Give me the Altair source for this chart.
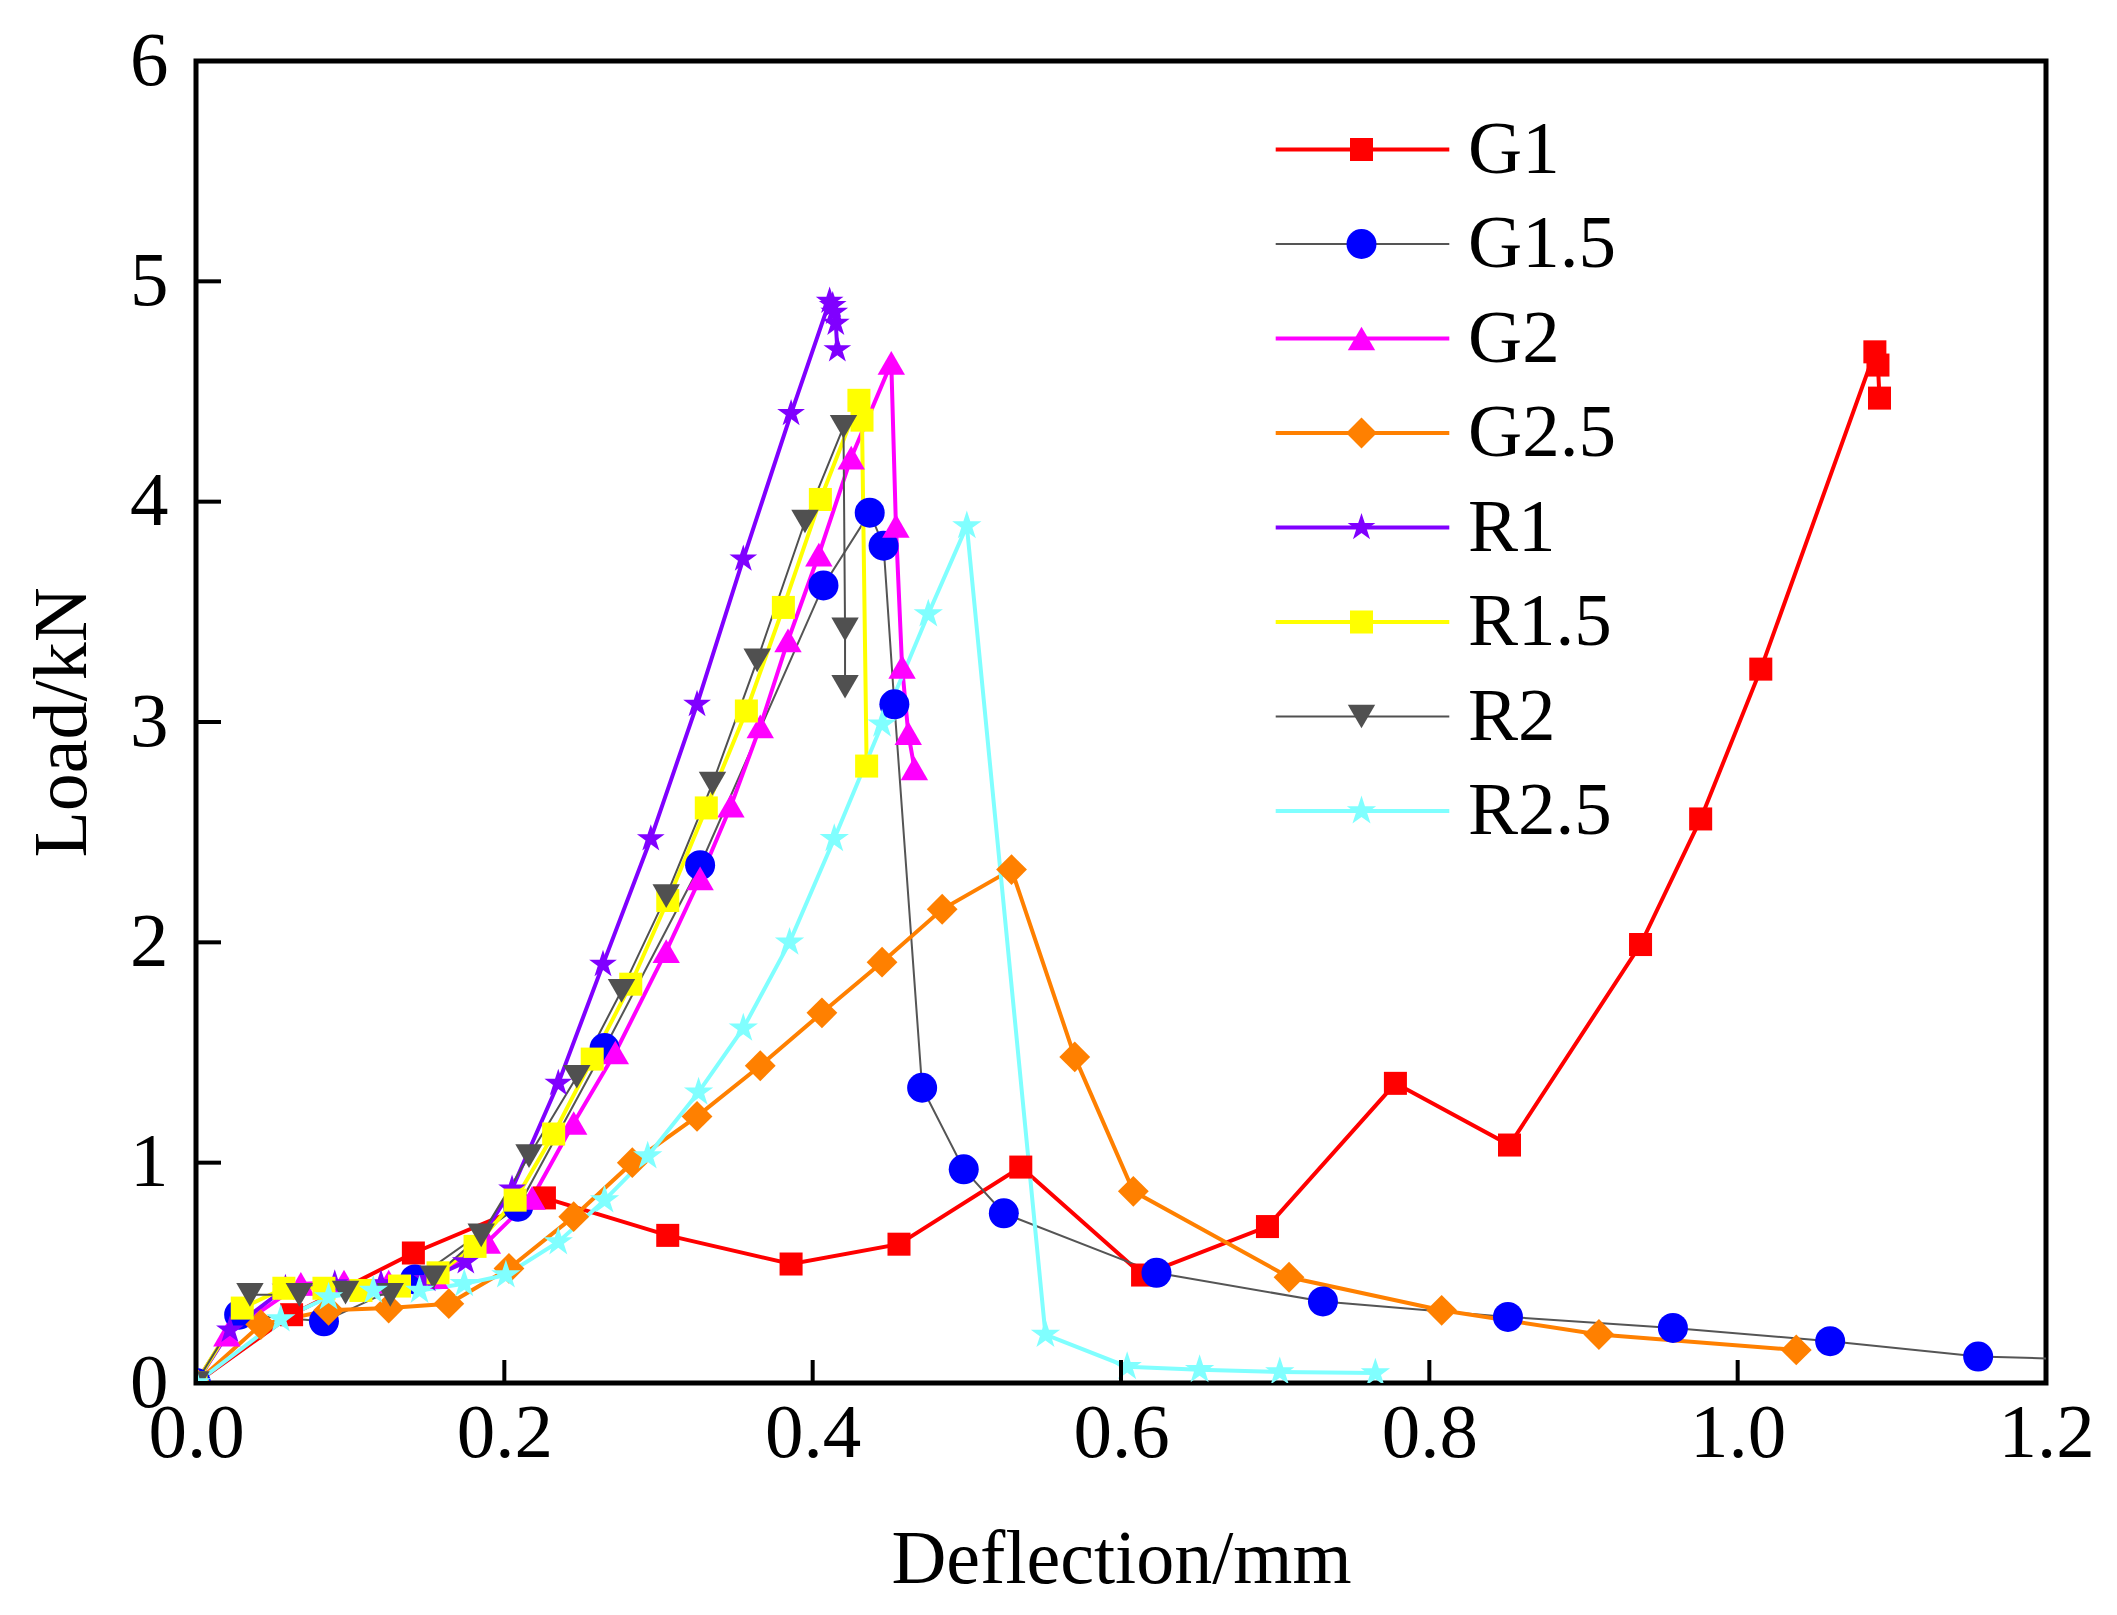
import altair as alt
import pandas as pd

# series names in legend order
names = ["G1", "G1.5", "G2", "G2.5", "R1", "R1.5", "R2", "R2.5"]

g1_x = [0, 0.062, 0.141, 0.226, 0.306, 0.386, 0.456, 0.535, 0.614, 0.695, 0.778, 0.852, 0.937, 0.976, 1.015, 1.089, 1.091, 1.092]
g1_y = [0, 0.31, 0.59, 0.84, 0.67, 0.54, 0.63, 0.98, 0.49, 0.71, 1.36, 1.08, 1.99, 2.56, 3.24, 4.68, 4.62, 4.47]

g15_x = [0, 0.028, 0.083, 0.142, 0.209, 0.265, 0.327, 0.407, 0.437, 0.446, 0.453, 0.471, 0.498, 0.524, 0.623, 0.731, 0.851, 0.958, 1.060, 1.156, 1.26]
g15_y = [0, 0.31, 0.28, 0.47, 0.80, 1.52, 2.35, 3.62, 3.95, 3.80, 3.08, 1.34, 0.97, 0.77, 0.50, 0.37, 0.30, 0.25, 0.19, 0.12, 0.10]

g2_x = [0, 0.02, 0.068, 0.096, 0.125, 0.155, 0.189, 0.218, 0.245, 0.272, 0.305, 0.327, 0.347, 0.366, 0.384, 0.404, 0.425, 0.451, 0.454, 0.458, 0.462, 0.466]
g2_y = [0, 0.22, 0.45, 0.46, 0.46, 0.48, 0.64, 0.84, 1.18, 1.50, 1.96, 2.29, 2.62, 2.98, 3.37, 3.76, 4.20, 4.63, 3.89, 3.25, 2.95, 2.79]

g25_x = [0, 0.042, 0.086, 0.125, 0.164, 0.203, 0.245, 0.283, 0.325, 0.366, 0.406, 0.445, 0.484, 0.529, 0.57, 0.608, 0.709, 0.808, 0.910, 1.038]
g25_y = [0, 0.265, 0.33, 0.34, 0.36, 0.52, 0.755, 1.0, 1.21, 1.44, 1.68, 1.91, 2.15, 2.33, 1.48, 0.87, 0.48, 0.33, 0.22, 0.15]

r1_x = [0, 0.022, 0.058, 0.09, 0.12, 0.15, 0.175, 0.205, 0.235, 0.264, 0.295, 0.325, 0.355, 0.386, 0.411, 0.413, 0.414, 0.415, 0.416]
r1_y = [0, 0.24, 0.43, 0.45, 0.45, 0.47, 0.55, 0.88, 1.36, 1.90, 2.47, 3.08, 3.74, 4.40, 4.91, 4.89, 4.86, 4.81, 4.69]

r15_x = [0, 0.030, 0.057, 0.083, 0.107, 0.132, 0.157, 0.181, 0.207, 0.232, 0.257, 0.282, 0.306, 0.331, 0.357, 0.381, 0.405, 0.430, 0.432, 0.435]
r15_y = [0, 0.34, 0.43, 0.43, 0.42, 0.44, 0.50, 0.62, 0.83, 1.13, 1.47, 1.81, 2.19, 2.61, 3.05, 3.52, 4.01, 4.46, 4.37, 2.80]

r2_x = [0, 0.035, 0.067, 0.097, 0.126, 0.154, 0.185, 0.216, 0.247, 0.276, 0.305, 0.335, 0.364, 0.395, 0.420, 0.421, 0.421]
r2_y = [0, 0.40, 0.40, 0.41, 0.40, 0.48, 0.67, 1.03, 1.39, 1.78, 2.21, 2.72, 3.28, 3.91, 4.34, 3.42, 3.16]

r25_x = [0, 0.055, 0.086, 0.115, 0.145, 0.174, 0.201, 0.235, 0.265, 0.293, 0.326, 0.355, 0.385, 0.414, 0.445, 0.475, 0.500, 0.551, 0.604, 0.651, 0.703, 0.765]
r25_y = [0, 0.29, 0.39, 0.42, 0.42, 0.45, 0.49, 0.64, 0.83, 1.03, 1.32, 1.61, 2.00, 2.47, 2.99, 3.49, 3.89, 0.22, 0.074, 0.06, 0.05, 0.045]

x_ticks = [0, 0.2, 0.4, 0.6, 0.8, 1.0, 1.2]
y_ticks = [0, 1, 2, 3, 4, 5, 6]

series = {
    "G1": (g1_x, g1_y), "G1.5": (g15_x, g15_y), "G2": (g2_x, g2_y), "G2.5": (g25_x, g25_y),
    "R1": (r1_x, r1_y), "R1.5": (r15_x, r15_y), "R2": (r2_x, r2_y), "R2.5": (r25_x, r25_y),
}

# styles
line_colors = ["#FF0000", "#555555", "#FF00FF", "#FF8000", "#8000FF", "#FFFF00", "#505050", "#80FFFF"]
line_widths = [4, 2, 4, 4, 4, 4, 2, 4]
marker_colors = ["#FF0000", "#0000FF", "#FF00FF", "#FF8000", "#8000FF", "#FFFF00", "#505050", "#80FFFF"]
star = "M0,-1L0.2245,-0.309L0.9511,-0.309L0.3633,0.118L0.5878,0.809L0,0.382L-0.5878,0.809L-0.3633,0.118L-0.9511,-0.309L-0.2245,-0.309Z"
marker_shapes = ["square", "circle", "triangle-up", "diamond", star, "square", "triangle-down", star]
marker_sizes = [530, 900, 750, 950, 850, 530, 750, 950]

rows = []
for name in names:
    xs, ys = series[name]
    for i, (xv, yv) in enumerate(zip(xs, ys)):
        rows.append({"series": name, "mk": name + "_m", "idx": i, "x": xv, "y": yv})
df = pd.DataFrame(rows)
mk_names = [n + "_m" for n in names]

W, H = 1850, 1322
FONT = "Liberation Serif"

x_enc = alt.X("x:Q", scale=alt.Scale(domain=[0, 1.2], nice=False),
              axis=alt.Axis(values=x_ticks, format=".1f", title="Deflection/mm"))
y_enc = alt.Y("y:Q", scale=alt.Scale(domain=[0, 6], nice=False),
              axis=alt.Axis(values=y_ticks, format="d", title="Load/kN"))

# legend: one legend draws the lines and labels, a second one lays the markers over the line middles
line_legend = alt.Legend(orient="none", legendX=1129, legendY=51, title=None,
                         symbolType="M-6.2,0H6.2", symbolSize=784, labelOffset=68,
                         labelFont=FONT, labelFontSize=75, labelColor="black", rowPadding=18.5)
mark_legend = alt.Legend(orient="none", legendX=1128, legendY=51, title=None,
                         labelFont=FONT, labelFontSize=75, labelExpr="' '",
                         symbolStrokeWidth=0, symbolOpacity=1, rowPadding=18.5)

lines = alt.Chart(df).mark_line(clip=True).encode(
    x=x_enc, y=y_enc, order="idx:Q",
    stroke=alt.Stroke("series:N", scale=alt.Scale(domain=names, range=line_colors), legend=line_legend),
    strokeWidth=alt.StrokeWidth("series:N", scale=alt.Scale(type="ordinal", domain=names, range=line_widths),
                                legend=line_legend),
)

points = alt.Chart(df).mark_point(filled=True, opacity=1, clip=True, strokeWidth=0).encode(
    x=x_enc, y=y_enc,
    fill=alt.Fill("mk:N", scale=alt.Scale(domain=mk_names, range=marker_colors), legend=mark_legend),
    shape=alt.Shape("mk:N", scale=alt.Scale(domain=mk_names, range=marker_shapes), legend=mark_legend),
    size=alt.Size("mk:N", scale=alt.Scale(type="ordinal", domain=mk_names, range=marker_sizes),
                  legend=mark_legend),
)

# inward ticks
xt = alt.Chart(pd.DataFrame({"x": x_ticks})).mark_rule(color="black", strokeWidth=4).encode(
    x=x_enc, y=alt.value(H), y2=alt.value(H - 23))
yt = alt.Chart(pd.DataFrame({"y": y_ticks})).mark_rule(color="black", strokeWidth=4).encode(
    y=y_enc, x=alt.value(0), x2=alt.value(25))

chart = alt.layer(lines, points, xt, yt).properties(
    width=W, height=H,
    autosize=alt.AutoSizeParams(type="none"),
    padding={"left": 188, "top": 53, "right": 63, "bottom": 224},
    background="white",
).configure_view(
    stroke="black", strokeWidth=5
).configure_axis(
    domain=False, ticks=False, grid=False, labelFlush=False,
    labelFont=FONT, labelFontSize=77, labelColor="black",
    titleFont=FONT, titleFontSize=76, titleFontWeight="normal", titleColor="black",
).configure_axisX(
    labelPadding=12, titlePadding=51
).configure_axisY(
    labelPadding=28, titlePadding=28
)

chart.save("out.html", embed_options={"renderer": "svg", "actions": False})
